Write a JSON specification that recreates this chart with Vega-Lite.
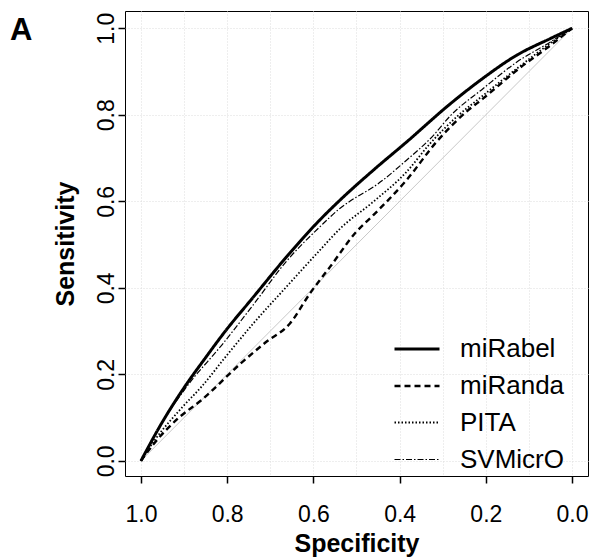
{
  "$schema": "https://vega.github.io/schema/vega-lite/v6.json",
  "width": 463,
  "height": 465,
  "autosize": {"type": "none"},
  "padding": {"left": 125, "top": 11, "right": 8, "bottom": 83},
  "background": "white",
  "title": {"text": "A", "anchor": "start", "frame": "group", "orient": "top", "dx": -115, "offset": -36, "baseline": "top", "fontSize": 31, "fontWeight": "bold", "font": "Liberation Sans", "color": "black"},
  "config": {"view": {"stroke": "black", "strokeWidth": 1}, "font": "Liberation Sans"},
  "datasets": {
    "diag": [{"spec": 1, "sens": 0}, {"spec": 0, "sens": 1}],
    "roc": [
      {"model": "miRabel", "spec": 1, "sens": 0},
      {"model": "miRabel", "spec": 0.952, "sens": 0.087},
      {"model": "miRabel", "spec": 0.898, "sens": 0.172},
      {"model": "miRabel", "spec": 0.852, "sens": 0.236},
      {"model": "miRabel", "spec": 0.805, "sens": 0.299},
      {"model": "miRabel", "spec": 0.739, "sens": 0.379},
      {"model": "miRabel", "spec": 0.662, "sens": 0.472},
      {"model": "miRabel", "spec": 0.585, "sens": 0.557},
      {"model": "miRabel", "spec": 0.538, "sens": 0.603},
      {"model": "miRabel", "spec": 0.461, "sens": 0.672},
      {"model": "miRabel", "spec": 0.384, "sens": 0.737},
      {"model": "miRabel", "spec": 0.283, "sens": 0.825},
      {"model": "miRabel", "spec": 0.206, "sens": 0.885},
      {"model": "miRabel", "spec": 0.128, "sens": 0.938},
      {"model": "miRabel", "spec": 0.051, "sens": 0.976},
      {"model": "miRabel", "spec": 0, "sens": 1},
      {"model": "miRanda", "spec": 1, "sens": 0},
      {"model": "miRanda", "spec": 0.968, "sens": 0.042},
      {"model": "miRanda", "spec": 0.913, "sens": 0.099},
      {"model": "miRanda", "spec": 0.859, "sens": 0.141},
      {"model": "miRanda", "spec": 0.770, "sens": 0.224},
      {"model": "miRanda", "spec": 0.712, "sens": 0.273},
      {"model": "miRanda", "spec": 0.654, "sens": 0.318},
      {"model": "miRanda", "spec": 0.608, "sens": 0.387},
      {"model": "miRanda", "spec": 0.561, "sens": 0.449},
      {"model": "miRanda", "spec": 0.500, "sens": 0.530},
      {"model": "miRanda", "spec": 0.461, "sens": 0.568},
      {"model": "miRanda", "spec": 0.384, "sens": 0.649},
      {"model": "miRanda", "spec": 0.314, "sens": 0.738},
      {"model": "miRanda", "spec": 0.244, "sens": 0.808},
      {"model": "miRanda", "spec": 0.206, "sens": 0.838},
      {"model": "miRanda", "spec": 0.128, "sens": 0.903},
      {"model": "miRanda", "spec": 0.051, "sens": 0.960},
      {"model": "miRanda", "spec": 0, "sens": 1},
      {"model": "PITA", "spec": 1, "sens": 0},
      {"model": "PITA", "spec": 0.968, "sens": 0.048},
      {"model": "PITA", "spec": 0.906, "sens": 0.122},
      {"model": "PITA", "spec": 0.859, "sens": 0.172},
      {"model": "PITA", "spec": 0.800, "sens": 0.245},
      {"model": "PITA", "spec": 0.739, "sens": 0.318},
      {"model": "PITA", "spec": 0.662, "sens": 0.403},
      {"model": "PITA", "spec": 0.585, "sens": 0.487},
      {"model": "PITA", "spec": 0.538, "sens": 0.537},
      {"model": "PITA", "spec": 0.461, "sens": 0.599},
      {"model": "PITA", "spec": 0.384, "sens": 0.668},
      {"model": "PITA", "spec": 0.329, "sens": 0.734},
      {"model": "PITA", "spec": 0.268, "sens": 0.795},
      {"model": "PITA", "spec": 0.206, "sens": 0.845},
      {"model": "PITA", "spec": 0.128, "sens": 0.907},
      {"model": "PITA", "spec": 0.051, "sens": 0.965},
      {"model": "PITA", "spec": 0, "sens": 1},
      {"model": "SVMicrO", "spec": 1, "sens": 0},
      {"model": "SVMicrO", "spec": 0.954, "sens": 0.083},
      {"model": "SVMicrO", "spec": 0.898, "sens": 0.166},
      {"model": "SVMicrO", "spec": 0.809, "sens": 0.272},
      {"model": "SVMicrO", "spec": 0.740, "sens": 0.360},
      {"model": "SVMicrO", "spec": 0.662, "sens": 0.462},
      {"model": "SVMicrO", "spec": 0.585, "sens": 0.541},
      {"model": "SVMicrO", "spec": 0.538, "sens": 0.584},
      {"model": "SVMicrO", "spec": 0.500, "sens": 0.610},
      {"model": "SVMicrO", "spec": 0.461, "sens": 0.633},
      {"model": "SVMicrO", "spec": 0.384, "sens": 0.695},
      {"model": "SVMicrO", "spec": 0.322, "sens": 0.752},
      {"model": "SVMicrO", "spec": 0.283, "sens": 0.797},
      {"model": "SVMicrO", "spec": 0.206, "sens": 0.861},
      {"model": "SVMicrO", "spec": 0.128, "sens": 0.922},
      {"model": "SVMicrO", "spec": 0.051, "sens": 0.968},
      {"model": "SVMicrO", "spec": 0, "sens": 1}
    ]
  },
  "encoding": {
    "x": {
      "field": "spec", "type": "quantitative",
      "scale": {"domain": [-0.037, 1.037], "reverse": true, "nice": false, "zero": false},
      "axis": {
        "values": [0, 0.1, 0.2, 0.3, 0.4, 0.5, 0.6, 0.7, 0.8, 0.9, 1],
        "title": "Specificity",
        "labelExpr": "round(datum.value*10)%2==0 ? format(datum.value,'.1f') : ''",
        "tickOpacity": {"condition": {"test": "round(datum.value*10)%2==0", "value": 1}, "value": 0},
        "grid": true, "gridColor": "#dcdcdc", "gridDash": [1, 2], "gridWidth": 1,
        "domain": false, "tickSize": 7, "tickWidth": 1.5, "tickColor": "black",
        "labelFontSize": 23, "labelColor": "black", "labelPadding": 20, "labelFlush": false, "labelOverlap": false, "labelBound": false,
        "titleFontSize": 25, "titleFontWeight": "bold", "titleColor": "black", "titlePadding": 5
      }
    },
    "y": {
      "field": "sens", "type": "quantitative",
      "scale": {"domain": [-0.035, 1.04], "nice": false, "zero": false},
      "axis": {
        "values": [0, 0.2, 0.4, 0.6, 0.8, 1],
        "format": ".1f",
        "title": "Sensitivity",
        "grid": true, "gridColor": "#dcdcdc", "gridDash": [1, 2], "gridWidth": 1,
        "domain": false, "tickSize": 7, "tickWidth": 1.5, "tickColor": "black",
        "labelFontSize": 23, "labelColor": "black", "labelAngle": 270, "labelAlign": "center", "labelBaseline": "alphabetic", "labelPadding": 5, "labelFlush": false, "labelOverlap": false, "labelBound": false,
        "titleFontSize": 25, "titleFontWeight": "bold", "titleColor": "black", "titlePadding": 17
      }
    }
  },
  "layer": [
    {
      "data": {"name": "diag"},
      "mark": {"type": "line", "color": "#c8c8c8", "strokeWidth": 1}
    },
    {
      "data": {"name": "roc"},
      "mark": {"type": "line", "color": "black", "interpolate": "monotone"},
      "encoding": {
        "strokeDash": {
          "field": "model", "type": "nominal",
          "scale": {"domain": ["miRabel", "miRanda", "PITA", "SVMicrO"], "range": [[1, 0], [6, 4], [1.5, 2], [6, 2, 1.5, 2]]},
          "legend": {"title": null, "orient": "none", "legendX": 268, "legendY": 314, "symbolType": "stroke", "symbolSize": 2025, "symbolStrokeColor": "black", "labelFontSize": 26, "labelColor": "black", "labelFont": "Liberation Sans", "labelOffset": 19, "rowPadding": -10, "padding": 0}
        },
        "strokeWidth": {
          "field": "model", "type": "ordinal",
          "scale": {"domain": ["miRabel", "miRanda", "PITA", "SVMicrO"], "range": [3, 1.2, 1.5, 1.2]},
          "legend": {"title": null, "orient": "none", "legendX": 268, "legendY": 314, "symbolType": "stroke", "symbolSize": 2025, "symbolStrokeColor": "black", "labelFontSize": 26, "labelColor": "black", "labelFont": "Liberation Sans", "labelOffset": 19, "rowPadding": -10, "padding": 0}
        }
      }
    }
  ]
}
